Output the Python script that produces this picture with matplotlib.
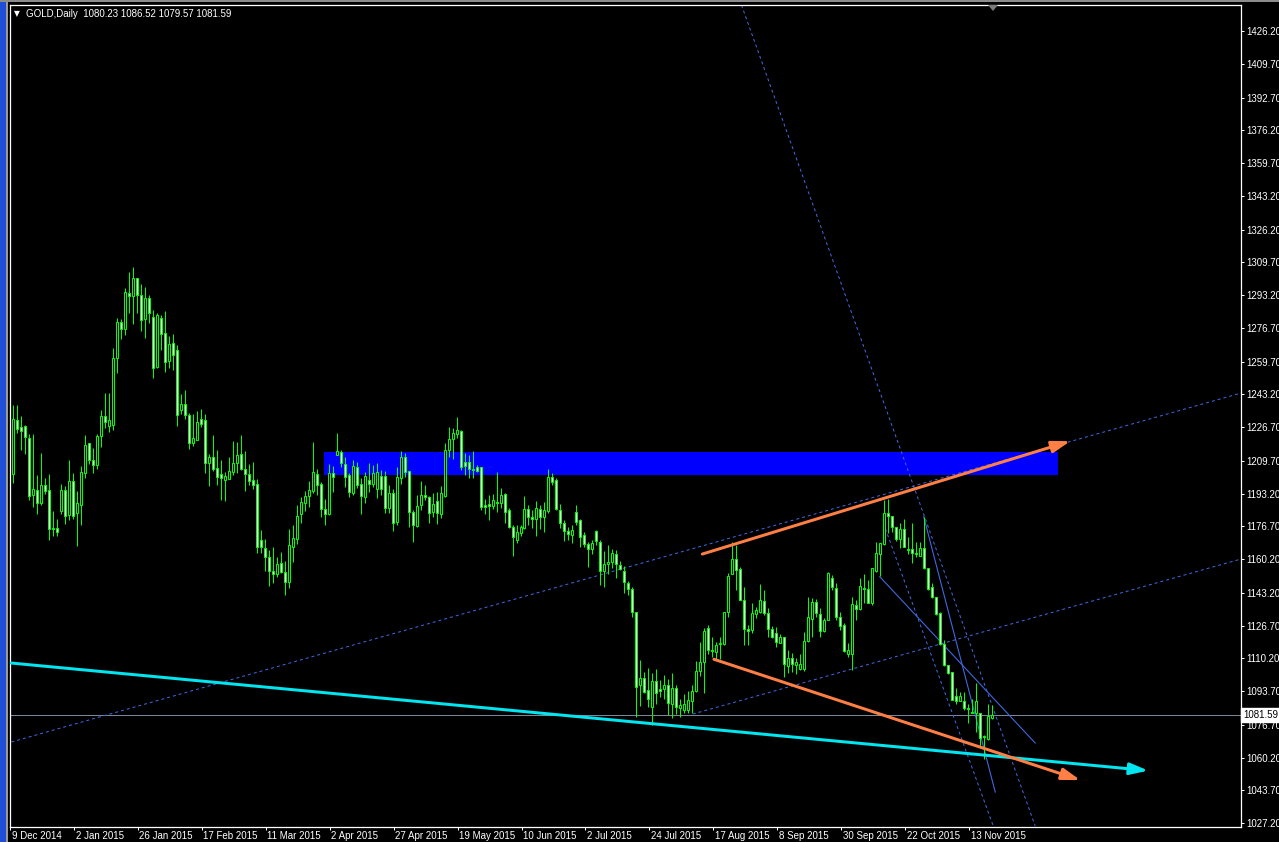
import matplotlib
matplotlib.use('Agg')
import matplotlib.pyplot as plt
from matplotlib.patches import Rectangle, Polygon
from matplotlib.transforms import blended_transform_factory

# ---------------- data (GOLD daily) ----------------
opens = [
 1202.8,1230.0,1226.5,1227.1,1221.4,1192.7,1195.2,1188.5,1197.7,1194.9,
 1175.6,1175.6,1184.5,1194.9,1182.3,1199.4,1183.5,1187.3,1203.6,1218.4,
 1210.3,1207.5,1222.3,1232.5,1227.3,1227.8,1261.7,1279.4,1275.9,1294.0,
 1292.7,1301.6,1293.0,1280.9,1291.5,1282.2,1257.0,1281.4,1274.3,1260.1,
 1268.8,1265.4,1235.5,1238.2,1233.0,1218.4,1220.4,1230.7,1230.0,1208.8,
 1211.7,1206.3,1202.8,1199.8,1200.6,1203.8,1208.8,1213.0,1205.5,1202.8,
 1199.9,1198.0,1169.7,1166.0,1161.2,1154.0,1152.9,1158.0,1153.6,1148.4,
 1166.4,1170.4,1183.0,1188.5,1192.1,1194.6,1202.8,1198.0,1185.2,1182.7,
 1203.3,1212.6,1213.9,1207.9,1202.3,1193.3,1206.4,1197.8,1191.6,1199.8,
 1198.0,1195.3,1202.0,1202.0,1186.0,1193.3,1179.0,1200.8,1211.4,1204.5,
 1183.7,1177.0,1187.4,1192.7,1191.2,1184.0,1189.4,1182.7,1192.1,1214.9,
 1220.5,1223.2,1224.8,1208.9,1208.9,1205.8,1206.4,1206.4,1187.4,1187.9,
 1187.0,1188.9,1188.2,1192.9,1184.9,1176.1,1169.7,1173.1,1175.6,1185.2,
 1181.5,1180.2,1185.2,1181.2,1184.5,1201.3,1200.0,1184.9,1178.2,1174.3,
 1172.3,1183.7,1179.8,1172.3,1167.7,1165.2,1174.3,1168.7,1154.3,1157.6,
 1158.8,1162.5,1157.0,1154.1,1147.9,1145.1,1133.3,1096.7,1100.5,1094.1,
 1085.7,1098.5,1094.6,1094.5,1096.5,1087.4,1095.0,1085.4,1084.1,1084.1,
 1088.6,1093.6,1103.7,1108.1,1125.2,1114.3,1113.5,1117.2,1117.2,1133.3,
 1152.9,1160.0,1155.0,1139.5,1124.7,1124.4,1132.4,1133.6,1139.0,1132.8,
 1124.7,1122.7,1118.0,1120.7,1106.2,1110.1,1106.7,1104.6,1104.6,1118.8,
 1129.8,1138.3,1132.4,1123.9,1129.7,1150.4,1145.4,1131.1,1126.9,1112.3,
 1112.6,1137.0,1134.8,1145.7,1145.0,1137.8,1154.1,1162.7,1167.6,1183.5,
 1181.8,1176.1,1170.1,1175.1,1165.5,1165.0,1163.0,1161.8,1166.0,1155.5,
 1146.2,1141.2,1132.8,1117.3,1106.7,1103.4,1091.3,1088.8,1088.8,1085.4,
 1083.2,1082.4,1082.7,1070.9,1069.3,1080.23]
highs = [
 1237.7,1237.7,1232.2,1227.6,1223.4,1223.1,1202.4,1213.4,1200.8,1202.9,
 1184.3,1180.6,1198.2,1196.9,1210.0,1203.3,1194.4,1207.0,1222.6,1218.4,
 1215.9,1223.4,1235.5,1243.6,1243.6,1266.3,1281.4,1280.9,1296.5,1304.6,
 1307.1,1301.6,1298.7,1297.0,1293.2,1285.6,1283.9,1283.1,1285.1,1272.5,
 1273.5,1268.0,1243.3,1245.3,1233.8,1233.2,1234.9,1236.0,1233.5,1213.0,
 1222.6,1215.0,1210.0,1204.0,1211.7,1219.6,1219.2,1222.6,1214.5,1208.3,
 1209.2,1200.5,1174.8,1170.2,1164.7,1166.4,1161.3,1163.5,1159.1,1175.3,
 1177.3,1187.4,1191.2,1194.4,1199.5,1219.0,1205.3,1199.1,1190.4,1208.0,
 1207.2,1223.5,1215.1,1211.7,1203.7,1210.0,1209.2,1200.8,1204.2,1208.4,
 1207.5,1208.4,1205.0,1204.5,1197.5,1195.4,1206.7,1214.6,1213.4,1204.7,
 1184.8,1192.4,1199.5,1197.5,1192.2,1193.3,1194.1,1197.0,1218.8,1226.5,
 1226.0,1231.6,1225.2,1213.4,1212.6,1214.6,1207.5,1206.7,1190.2,1192.4,
 1192.9,1204.0,1195.8,1193.3,1185.7,1177.3,1177.3,1177.3,1191.9,1187.4,
 1184.9,1189.6,1187.4,1189.1,1205.4,1203.7,1200.8,1187.9,1179.8,1176.5,
 1177.3,1187.4,1180.2,1174.0,1168.9,1169.7,1174.8,1169.7,1164.4,1167.2,
 1165.5,1164.7,1159.2,1156.6,1149.2,1146.2,1133.6,1109.3,1103.4,1105.1,
 1102.9,1104.6,1099.2,1101.7,1100.0,1103.0,1096.7,1089.9,1092.1,1093.8,
 1096.7,1108.8,1118.5,1125.2,1126.9,1121.0,1118.5,1121.0,1133.6,1153.3,
 1168.9,1167.2,1156.0,1146.2,1126.9,1137.8,1136.1,1147.4,1144.5,1135.3,
 1126.4,1126.1,1122.4,1121.0,1114.6,1112.9,1110.1,1112.6,1123.5,1141.2,
 1140.8,1140.3,1135.3,1130.6,1153.8,1152.1,1147.9,1133.6,1128.1,1117.7,
 1141.2,1139.5,1150.4,1152.9,1149.6,1155.5,1168.9,1168.1,1189.9,1190.2,
 1181.8,1176.5,1178.1,1180.2,1171.4,1178.5,1168.9,1168.9,1181.5,1155.5,
 1147.9,1141.2,1133.6,1119.3,1106.7,1103.4,1095.0,1093.3,1093.3,1087.4,
 1089.9,1097.8,1082.7,1071.5,1087.4,1086.52]
lows = [
 1198.6,1223.8,1215.0,1213.0,1189.8,1186.5,1182.8,1187.3,1193.2,1169.7,
 1171.7,1171.7,1182.8,1177.7,1179.8,1180.6,1166.7,1177.2,1200.8,1208.0,
 1203.6,1205.8,1216.7,1226.0,1224.3,1225.1,1254.0,1271.0,1273.0,1283.9,
 1278.5,1283.9,1275.2,1271.7,1278.9,1251.2,1256.2,1265.4,1254.5,1256.2,
 1255.4,1227.3,1233.5,1230.5,1215.5,1217.2,1220.1,1226.8,1203.3,1196.9,
 1204.6,1197.7,1189.8,1189.5,1200.3,1202.4,1203.6,1205.0,1194.4,1197.4,
 1195.7,1163.0,1163.0,1154.3,1146.7,1147.9,1150.9,1153.3,1142.3,1145.4,
 1158.8,1168.0,1178.5,1184.5,1186.2,1193.3,1192.4,1181.5,1177.3,1182.3,
 1194.1,1212.6,1206.7,1196.6,1191.6,1192.4,1195.8,1182.8,1188.2,1194.1,
 1196.3,1190.7,1192.4,1183.5,1183.2,1174.3,1177.3,1198.0,1201.6,1176.5,
 1168.9,1176.5,1184.8,1189.9,1178.1,1181.2,1177.8,1180.7,1191.2,1211.7,
 1210.4,1221.0,1205.0,1202.5,1200.8,1200.8,1204.2,1184.8,1182.8,1179.8,
 1185.2,1184.0,1185.7,1178.1,1175.6,1161.7,1168.4,1171.8,1175.1,1177.3,
 1175.6,1171.8,1175.1,1174.0,1183.2,1197.5,1184.9,1175.6,1169.4,1169.7,
 1168.1,1177.3,1166.4,1166.1,1156.3,1162.7,1167.2,1147.1,1146.2,1152.9,
 1155.5,1150.4,1154.6,1142.9,1142.0,1130.8,1080.7,1086.1,1092.5,1085.7,
 1076.5,1087.4,1090.8,1089.9,1081.6,1079.9,1082.0,1080.7,1082.4,1082.4,
 1082.7,1093.3,1101.2,1092.8,1112.6,1110.9,1109.3,1109.6,1116.8,1131.1,
 1152.9,1144.5,1139.5,1116.8,1116.8,1123.0,1130.3,1132.8,1131.9,1121.0,
 1120.2,1116.0,1117.7,1100.9,1102.9,1103.4,1102.5,1104.2,1103.9,1118.5,
 1121.0,1131.1,1121.0,1123.5,1129.4,1144.5,1129.7,1124.4,1113.4,1110.9,
 1104.2,1129.7,1134.5,1137.8,1137.8,1137.0,1153.8,1151.6,1167.2,1173.4,
 1173.9,1169.4,1166.0,1166.4,1162.7,1158.3,1161.3,1161.7,1155.0,1144.5,
 1140.8,1131.9,1116.8,1106.2,1102.5,1089.1,1087.4,1088.8,1084.1,1077.7,
 1082.4,1073.1,1065.6,1059.7,1068.9,1079.57]
closes = [
 1230.5,1225.5,1224.8,1221.8,1192.2,1195.7,1188.5,1197.7,1194.5,1175.1,
 1175.3,1173.9,1195.2,1181.8,1199.4,1181.8,1188.2,1204.0,1217.6,1210.3,
 1207.5,1222.4,1232.5,1229.3,1230.0,1261.7,1279.4,1276.2,1294.5,1292.5,
 1301.6,1293.3,1280.4,1291.5,1283.9,1256.5,1282.9,1273.5,1259.6,1268.3,
 1263.1,1233.0,1238.2,1233.0,1218.4,1221.3,1229.0,1228.0,1208.8,1211.7,
 1205.6,1201.3,1200.8,1201.9,1204.5,1208.8,1212.5,1205.8,1202.8,1199.6,
 1197.7,1166.4,1166.4,1161.0,1154.3,1152.9,1157.6,1153.8,1148.7,1167.2,
 1170.6,1181.8,1188.7,1192.2,1194.8,1203.8,1197.5,1185.2,1182.7,1203.3,
 1201.6,1214.4,1208.4,1201.6,1194.1,1207.0,1197.5,1192.1,1202.0,1197.8,
 1203.3,1204.0,1195.3,1186.0,1193.3,1178.5,1201.3,1211.4,1203.8,1183.7,
 1177.3,1187.0,1192.7,1191.6,1183.5,1187.9,1183.2,1193.3,1214.9,1220.5,
 1223.5,1225.2,1206.7,1207.2,1205.3,1205.0,1204.7,1186.5,1186.5,1187.0,
 1189.7,1188.6,1192.4,1184.0,1176.1,1171.1,1173.6,1176.1,1185.2,1181.2,
 1180.3,1185.7,1181.2,1184.9,1201.3,1199.1,1185.2,1178.2,1174.4,1172.8,
 1174.8,1179.0,1171.4,1167.7,1165.5,1168.4,1169.4,1154.3,1157.5,1158.5,
 1163.0,1157.5,1155.1,1148.7,1144.9,1133.6,1095.8,1100.5,1093.3,1089.9,
 1098.7,1092.9,1093.6,1096.5,1087.7,1095.0,1085.7,1086.9,1087.4,1089.1,
 1093.6,1103.7,1108.1,1123.9,1114.6,1113.8,1116.8,1117.7,1133.3,1151.6,
 1160.0,1154.6,1139.8,1124.7,1124.0,1132.8,1134.4,1139.5,1133.1,1124.7,
 1121.0,1118.5,1120.7,1107.1,1110.1,1107.1,1108.4,1107.2,1118.8,1130.8,
 1138.3,1132.8,1124.0,1129.4,1153.4,1145.9,1131.1,1126.4,1114.0,1114.6,
 1137.3,1134.8,1146.6,1145.0,1138.2,1155.5,1163.0,1168.1,1183.5,1182.0,
 1176.5,1170.1,1175.1,1166.4,1164.7,1163.4,1162.5,1166.0,1155.5,1144.9,
 1141.2,1132.4,1117.3,1106.7,1103.0,1089.4,1088.8,1091.1,1085.2,1084.4,
 1082.7,1088.8,1069.8,1070.3,1081.2,1081.59]

date_labels = ["9 Dec 2014", "2 Jan 2015", "26 Jan 2015", "17 Feb 2015", "11 Mar 2015",
               "2 Apr 2015", "27 Apr 2015", "19 May 2015", "10 Jun 2015", "2 Jul 2015",
               "24 Jul 2015", "17 Aug 2015", "8 Sep 2015", "30 Sep 2015", "22 Oct 2015",
               "13 Nov 2015"]
bars_per_label = 16
price_ticks = [1426.2, 1409.7, 1392.7, 1376.2, 1359.7, 1343.2, 1326.2, 1309.7, 1293.2,
               1276.7, 1259.7, 1243.2, 1226.7, 1209.7, 1193.2, 1176.7, 1160.2, 1143.2,
               1126.7, 1110.2, 1093.7, 1076.7, 1060.2, 1043.7, 1027.2]
last_price = 1081.59
title = "GOLD,Daily  1080.23 1086.52 1079.57 1081.59"

# drawn objects (bar index, price)
zone_x = (77.8, 261.6)
zone_y = (1202.5, 1214.1)
cyan_arrow = ((-0.425, 1107.8), (284.1, 1053.6))
orange_up = ((172.5, 1162.7), (264.6, 1219.6))
orange_down = ((175.4, 1109.7), (267.1, 1048.8))
dashed_lines = [((-0.425, 1068.0), (307.3, 1243.8)),
                ((170.1, 1082.1), (307.3, 1160.2)),
                ((182.3, 1439.3), (255.8, 1025.7)),
                ((217.8, 1178.3), (245.3, 1025.7))]
solid_lines = [((227.9, 1181.5), (245.8, 1042.8)),
               ((216.9, 1151.3), (255.8, 1067.5))]

# ---------------- figure ----------------
W, H = 1279, 842
FONT = ['Liberation Sans', 'DejaVu Sans']
fig = plt.figure(figsize=(W / 100, H / 100), dpi=100, facecolor='black')

# window frame decoration
fig.patches.append(Rectangle((0, 0), 6 / W, 1, transform=fig.transFigure,
                             facecolor='#1f4fd6', edgecolor='none'))
fig.patches.append(Rectangle((6 / W, 0), 2 / W, 1, transform=fig.transFigure,
                             facecolor='#9a9a9a', edgecolor='none'))
fig.patches.append(Rectangle((0, 1 - 2 / H), 1, 2 / H, transform=fig.transFigure,
                             facecolor='#8c8c8c', edgecolor='none'))

ax = fig.add_axes([10 / W, (H - 827) / H, (1241 - 10) / W, (827 - 5) / H], facecolor='black')
ax.set_xlim(-0.425, 307.3)
ax.set_ylim(1025.2, 1439.3)
for s in ax.spines.values():
    s.set_color('white')
    s.set_linewidth(0.9)

px = 0.72  # one pixel in points

# zone rectangle
ax.add_patch(Rectangle((zone_x[0], zone_y[0]), zone_x[1] - zone_x[0], zone_y[1] - zone_y[0],
                       facecolor='#0000ff', edgecolor='none', zorder=1))

# price line
ax.axhline(last_price, color='#778899', lw=1.0 * px, zorder=1.5)

# dashed / thin lines
for (x0, y0), (x1, y1) in dashed_lines:
    ax.plot([x0, x1], [y0, y1], color='#4169e1', lw=1.0 * px, linestyle=(0, (3, 3)), zorder=2)
for (x0, y0), (x1, y1) in solid_lines:
    ax.plot([x0, x1], [y0, y1], color='#4169e1', lw=1.1 * px, zorder=2)

# candles
idx = list(range(len(opens)))
green = '#00ff00'
ax.vlines(idx, lows, highs, color=green, lw=1.0 * px, zorder=3)
for i in idx:
    o, c = opens[i], closes[i]
    bottom = min(o, c)
    height = max(abs(c - o), 0.01)
    face = 'black' if c >= o else 'white'
    ax.add_patch(Rectangle((i - 0.25, bottom), 0.5, height, facecolor=face,
                           edgecolor=green, lw=1.0 * px, zorder=4))

# arrows
def arrow(p0, p1, color, lw):
    ax.annotate('', xy=p1, xytext=p0, xycoords='data', textcoords='data',
                arrowprops=dict(arrowstyle='-|>,head_length=1.1,head_width=0.35',
                                color=color, lw=lw, shrinkA=0, shrinkB=0,
                                mutation_scale=10), zorder=5, annotation_clip=False)

arrow(cyan_arrow[0], cyan_arrow[1], '#00e6f0', 3 * px)
arrow(orange_up[0], orange_up[1], '#ff7f45', 3 * px)
arrow(orange_down[0], orange_down[1], '#ff7f45', 3 * px)

# y axis (right)
ax.yaxis.tick_right()
ax.set_yticks(price_ticks)
ax.set_yticklabels([f"{p:.2f}" for p in price_ticks])
ax.tick_params(axis='y', colors='white', length=3 * px, width=px, direction='out',
               pad=1.5, labelsize=7)
for lab in ax.get_yticklabels():
    lab.set_family(FONT)

# x axis
tick_pos = [k * bars_per_label - 0.75 for k in range(len(date_labels))]
ax.set_xticks(tick_pos)
ax.set_xticklabels([''] * len(tick_pos))
ax.tick_params(axis='x', colors='white', length=3 * px, width=px, direction='out')
tb = blended_transform_factory(ax.transData, ax.transAxes)
for pos, lab in zip(tick_pos, date_labels):
    ax.text(max(pos + 0.4, -0.3), -9 / 822, lab, transform=tb, ha='left', va='center',
            color='white', fontsize=7, family=FONT, clip_on=False)

# last price label
yb = blended_transform_factory(ax.transAxes, ax.transData)
ax.text(1.0015, last_price, f"{last_price:.2f}", transform=yb, ha='left', va='center',
        color='black', fontsize=7, family=FONT, zorder=10, clip_on=False,
        bbox=dict(facecolor='white', edgecolor='white', pad=1.2))

# title
fig.text(14 / W, 1 - 14 / H, '\u25bc', color='white', fontsize=5.5, family=['DejaVu Sans'],
         ha='left', va='center')
fig.text(26 / W, 1 - 14 / H, title, color='white', fontsize=7, family=FONT,
         ha='left', va='center')

# chart-shift marker
fig.patches.append(Polygon([(988 / W, 1 - 5 / H), (998 / W, 1 - 5 / H), (993 / W, 1 - 11 / H)],
                           closed=True, transform=fig.transFigure, facecolor='#7a7a7a',
                           edgecolor='none', zorder=10))

fig.savefig('out.png', dpi=100, facecolor='black')
